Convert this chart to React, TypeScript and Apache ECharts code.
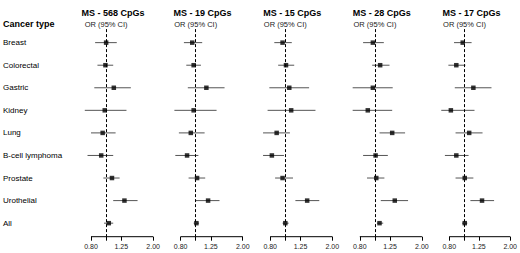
import React, { useEffect, useRef } from "react";
import * as echarts from "echarts";

// ---- data ----
const categories = [
  "Breast",
  "Colorectal",
  "Gastric",
  "Kidney",
  "Lung",
  "B-cell lymphoma",
  "Prostate",
  "Urothelial",
  "All",
];
const panelTitles = ["MS - 568 CpGs", "MS - 19 CpGs", "MS - 15 CpGs", "MS - 28 CpGs", "MS - 17 CpGs"];

const or568 = [1.0, 0.99, 1.12, 0.98, 0.95, 0.93, 1.09, 1.31, 1.04];
const lo568 = [0.85, 0.88, 0.84, 0.73, 0.8, 0.76, 0.96, 1.11, 0.97];
const hi568 = [1.17, 1.11, 1.44, 1.35, 1.15, 1.11, 1.22, 1.59, 1.11];

const or19 = [0.95, 0.97, 1.17, 0.97, 0.93, 0.88, 1.02, 1.2, 1.01];
const lo19 = [0.84, 0.87, 0.89, 0.73, 0.78, 0.74, 0.9, 1.0, 0.97];
const hi19 = [1.1, 1.08, 1.53, 1.36, 1.14, 1.04, 1.15, 1.42, 1.05];

const or15 = [0.96, 1.01, 1.06, 1.09, 0.88, 0.82, 0.96, 1.38, 1.0];
const lo15 = [0.85, 0.9, 0.79, 0.77, 0.72, 0.72, 0.86, 1.16, 0.96];
const hi15 = [1.1, 1.14, 1.42, 1.56, 1.07, 0.98, 1.12, 1.65, 1.05];

const or28 = [0.97, 1.08, 0.97, 0.9, 1.29, 1.01, 1.02, 1.34, 1.07];
const lo28 = [0.84, 0.96, 0.72, 0.72, 1.07, 0.84, 0.89, 1.09, 1.03];
const hi28 = [1.14, 1.24, 1.3, 1.29, 1.56, 1.21, 1.15, 1.63, 1.13];

const or17 = [0.98, 0.89, 1.15, 0.82, 1.08, 0.89, 1.01, 1.31, 1.01];
const lo17 = [0.86, 0.79, 0.87, 0.71, 0.88, 0.75, 0.88, 1.1, 0.97];
const hi17 = [1.12, 1.02, 1.51, 1.17, 1.32, 1.07, 1.15, 1.57, 1.05];

const tickValues = [0.8, 1, 1.25, 2];
const tickLabelValues = [0.8, 1.25, 2];
const refOR = 1;
const headerText = "OR (95% CI)";
const rowHeader = "Cancer type";

// ---- layout ----
const FONT = "'Liberation Sans', Arial, Helvetica, sans-serif";
const X_MIN_OR = 0.69;
const X_MAX_OR = 2;
const AXIS_START_OR = 0.8;
const PX_PER_LN = 67.8;
const FIRST_AXIS_START_X = 91;
const PANEL_STEP = 89.6;
const GRID_TOP = 29.1;
const GRID_BOTTOM_Y = 236.7;
const ROW_MIN = 0.4;
const ROW_MAX = 9.6;

const panels = [
  { or: or568, lo: lo568, hi: hi568 },
  { or: or19, lo: lo19, hi: hi19 },
  { or: or15, lo: lo15, hi: hi15 },
  { or: or28, lo: lo28, hi: hi28 },
  { or: or17, lo: lo17, hi: hi17 },
];

function buildOption() {
  const grids: any[] = [];
  const xAxes: any[] = [];
  const yAxes: any[] = [];
  const series: any[] = [];
  const graphics: any[] = [];

  const gridWidth = PX_PER_LN * Math.log(X_MAX_OR / X_MIN_OR);
  const leftPad = PX_PER_LN * Math.log(AXIS_START_OR / X_MIN_OR);

  panels.forEach((p, i) => {
    const axisStartX = FIRST_AXIS_START_X + PANEL_STEP * i;
    const left = axisStartX - leftPad;
    grids.push({
      left,
      top: GRID_TOP,
      width: gridWidth,
      height: GRID_BOTTOM_Y - GRID_TOP,
      containLabel: false,
    });
    xAxes.push({
      type: "value",
      gridIndex: i,
      min: Math.log(X_MIN_OR),
      max: Math.log(X_MAX_OR),
      axisLine: { show: false },
      splitLine: { show: false },
      axisTick: {
        show: true,
        customValues: tickValues.map((v) => Math.log(v)),
        length: 4,
        lineStyle: { color: "#000", width: 1 },
      },
      axisLabel: {
        show: true,
        customValues: tickLabelValues.map((v) => Math.log(v)),
        formatter: (v: number) => Math.exp(v).toFixed(2),
        fontSize: 7,
        color: "#222",
        margin: 6,
        fontFamily: FONT,
      },
    });
    yAxes.push({
      type: "value",
      gridIndex: i,
      inverse: true,
      min: ROW_MIN,
      max: ROW_MAX,
      axisLine: { show: false },
      axisTick: { show: false },
      splitLine: { show: false },
      axisLabel:
        i === 0
          ? {
              show: true,
              customValues: categories.map((_, k) => k + 1),
              formatter: (v: number) => categories[Math.round(v) - 1] ?? "",
              align: "left",
              margin: left - 3,
              fontSize: 8,
              color: "#000",
              fontFamily: FONT,
            }
          : { show: false },
    });

    // whiskers
    series.push({
      type: "custom",
      xAxisIndex: i,
      yAxisIndex: i,
      silent: true,
      encode: { x: [0, 1], y: 2 },
      data: categories.map((_, k) => [Math.log(p.lo[k]), Math.log(p.hi[k]), k + 1]),
      renderItem: (params: any, api: any) => {
        const a = api.coord([api.value(0), api.value(2)]);
        const b = api.coord([api.value(1), api.value(2)]);
        return {
          type: "line",
          shape: { x1: a[0], y1: a[1], x2: b[0], y2: b[1] },
          style: { stroke: "#555", lineWidth: 1 },
        };
      },
      z: 2,
    });

    // boxes + reference line
    series.push({
      type: "scatter",
      xAxisIndex: i,
      yAxisIndex: i,
      silent: true,
      symbol: "rect",
      symbolSize: 4.5,
      itemStyle: { color: "#000" },
      data: categories.map((_, k) => [Math.log(p.or[k]), k + 1]),
      z: 3,
      markLine: {
        silent: true,
        symbol: ["none", "none"],
        label: { show: false },
        lineStyle: { type: [3, 2], color: "#000", width: 1 },
        data: [{ xAxis: Math.log(refOR) }],
      },
    });

    // axis line from first to last tick
    series.push({
      type: "line",
      xAxisIndex: i,
      yAxisIndex: i,
      silent: true,
      clip: false,
      symbol: "none",
      lineStyle: { color: "#000", width: 1 },
      data: [
        [Math.log(tickValues[0]), ROW_MAX],
        [Math.log(tickValues[tickValues.length - 1]), ROW_MAX],
      ],
      z: 1,
    });

    graphics.push({
      type: "text",
      x: axisStartX + 22,
      y: 12.7,
      style: {
        text: panelTitles[i],
        font: `bold 9px ${FONT}`,
        fill: "#000",
        textAlign: "center",
        textVerticalAlign: "middle",
      },
    });
    graphics.push({
      type: "text",
      x: axisStartX + PX_PER_LN * Math.log(refOR / AXIS_START_OR),
      y: 24.3,
      style: {
        text: headerText,
        font: `7.5px ${FONT}`,
        fill: "#222",
        textAlign: "center",
        textVerticalAlign: "middle",
      },
    });
  });

  graphics.push({
    type: "text",
    x: 3,
    y: 24.3,
    style: {
      text: rowHeader,
      font: `bold 9px ${FONT}`,
      fill: "#000",
      textAlign: "left",
      textVerticalAlign: "middle",
    },
  });

  return {
    animation: false,
    backgroundColor: "#fff",
    grid: grids,
    xAxis: xAxes,
    yAxis: yAxes,
    series,
    graphic: graphics,
  };
}

export default function App() {
  const ref = useRef<HTMLDivElement>(null);
  useEffect(() => {
    if (!ref.current) return;
    const chart = echarts.init(ref.current, null, { renderer: "svg" });
    chart.setOption(buildOption() as any);
    return () => chart.dispose();
  }, []);
  return (
    <div
      ref={ref}
      style={{ position: "absolute", left: 0, top: 0, width: 520, height: 253, background: "#fff" }}
    />
  );
}
